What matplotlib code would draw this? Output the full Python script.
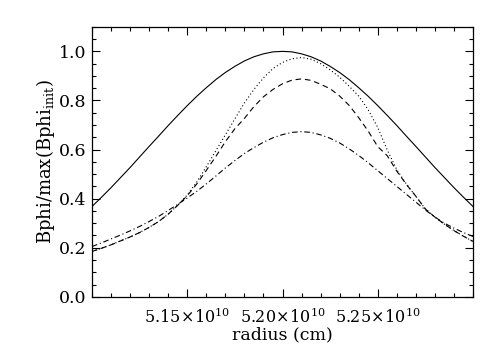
import numpy as np
import matplotlib
matplotlib.use("Agg")
import matplotlib.pyplot as plt
from matplotlib.ticker import MultipleLocator, FuncFormatter

plt.rcParams['font.family'] = ['DejaVu Serif']
plt.rcParams['mathtext.fontset'] = 'dejavuserif'

# radius in units of 1e10 cm, 0.005 steps from 5.10 to 5.30
radius = [5.100, 5.105, 5.110, 5.115, 5.120, 5.125, 5.130, 5.135, 5.140, 5.145,
          5.150, 5.155, 5.160, 5.165, 5.170, 5.175, 5.180, 5.185, 5.190, 5.195,
          5.200, 5.205, 5.210, 5.215, 5.220, 5.225, 5.230, 5.235, 5.240, 5.245,
          5.250, 5.255, 5.260, 5.265, 5.270, 5.275, 5.280, 5.285, 5.290, 5.295,
          5.300]

# initial profile (solid)
b_init = [0.368, 0.406, 0.445, 0.486, 0.527, 0.570, 0.613, 0.655, 0.698, 0.739,
          0.779, 0.817, 0.852, 0.885, 0.914, 0.939, 0.961, 0.978, 0.990, 0.998,
          1.000, 0.998, 0.990, 0.978, 0.961, 0.939, 0.914, 0.885, 0.852, 0.817,
          0.779, 0.739, 0.698, 0.655, 0.613, 0.570, 0.527, 0.486, 0.445, 0.406,
          0.368]

# dotted
b_dot = [0.185, 0.198, 0.212, 0.228, 0.244, 0.262, 0.283, 0.307, 0.337, 0.373,
         0.415, 0.468, 0.530, 0.595, 0.660, 0.725, 0.790, 0.845, 0.892, 0.930,
         0.955, 0.970, 0.975, 0.968, 0.950, 0.925, 0.895, 0.858, 0.818, 0.762,
         0.690, 0.598, 0.518, 0.460, 0.410, 0.358, 0.325, 0.296, 0.270, 0.247,
         0.226]

# dashed
b_dash = [0.185, 0.198, 0.212, 0.228, 0.244, 0.262, 0.283, 0.307, 0.337, 0.373,
          0.412, 0.460, 0.515, 0.572, 0.632, 0.685, 0.727, 0.775, 0.815, 0.845,
          0.868, 0.883, 0.888, 0.882, 0.866, 0.848, 0.818, 0.780, 0.730, 0.675,
          0.612, 0.575, 0.512, 0.458, 0.410, 0.358, 0.325, 0.296, 0.270, 0.247,
          0.226]

# dash-dot
b_dashdot = [0.205, 0.220, 0.236, 0.252, 0.269, 0.287, 0.307, 0.328, 0.352, 0.377,
             0.403, 0.430, 0.460, 0.492, 0.525, 0.555, 0.584, 0.608, 0.630, 0.648,
             0.661, 0.670, 0.673, 0.670, 0.660, 0.646, 0.627, 0.603, 0.576, 0.546,
             0.514, 0.482, 0.450, 0.418, 0.386, 0.354, 0.325, 0.300, 0.280, 0.262,
             0.246]

x_ticks = [5.15, 5.20, 5.25]

fig = plt.figure(figsize=(5.0, 3.53), dpi=100)
ax = fig.add_axes([0.184, 0.159, 0.762, 0.765])

ax.plot(radius, b_init, color='black', linewidth=0.8, linestyle='-')
ax.plot(radius, b_dot, color='black', linewidth=0.8, linestyle=(0, (1, 2.2)))
ax.plot(radius, b_dash, color='black', linewidth=0.8, linestyle=(0, (5, 3.5)))
ax.plot(radius, b_dashdot, color='black', linewidth=0.8, linestyle=(0, (5, 2.5, 1, 2.5)))

ax.set_xlim(5.10, 5.30)
ax.set_ylim(0.0, 1.1)

ax.set_xticks(x_ticks)
ax.xaxis.set_major_formatter(FuncFormatter(lambda v, p: r'$%.2f\!\times\!10^{10}$' % v))
ax.xaxis.set_minor_locator(MultipleLocator(0.01))
ax.yaxis.set_major_locator(MultipleLocator(0.2))
ax.yaxis.set_major_formatter(FuncFormatter(lambda v, p: '%.1f' % v))
ax.yaxis.set_minor_locator(MultipleLocator(0.05))

ax.tick_params(which='both', direction='in', top=True, right=True, width=0.8,
               colors='black')
ax.tick_params(which='major', length=6)
ax.tick_params(which='minor', length=3)
ax.tick_params(axis='x', which='major', labelsize=11.5, pad=8)
ax.tick_params(axis='y', which='major', labelsize=12.5, pad=4)
for s in ax.spines.values():
    s.set_linewidth(0.9)

ax.set_xlabel('radius (cm)', fontsize=12.5, labelpad=-1)
ax.set_ylabel(r'Bphi/max(Bphi$_{\rm init}$)', fontsize=13, labelpad=1)

fig.savefig('out.png', dpi=100)
